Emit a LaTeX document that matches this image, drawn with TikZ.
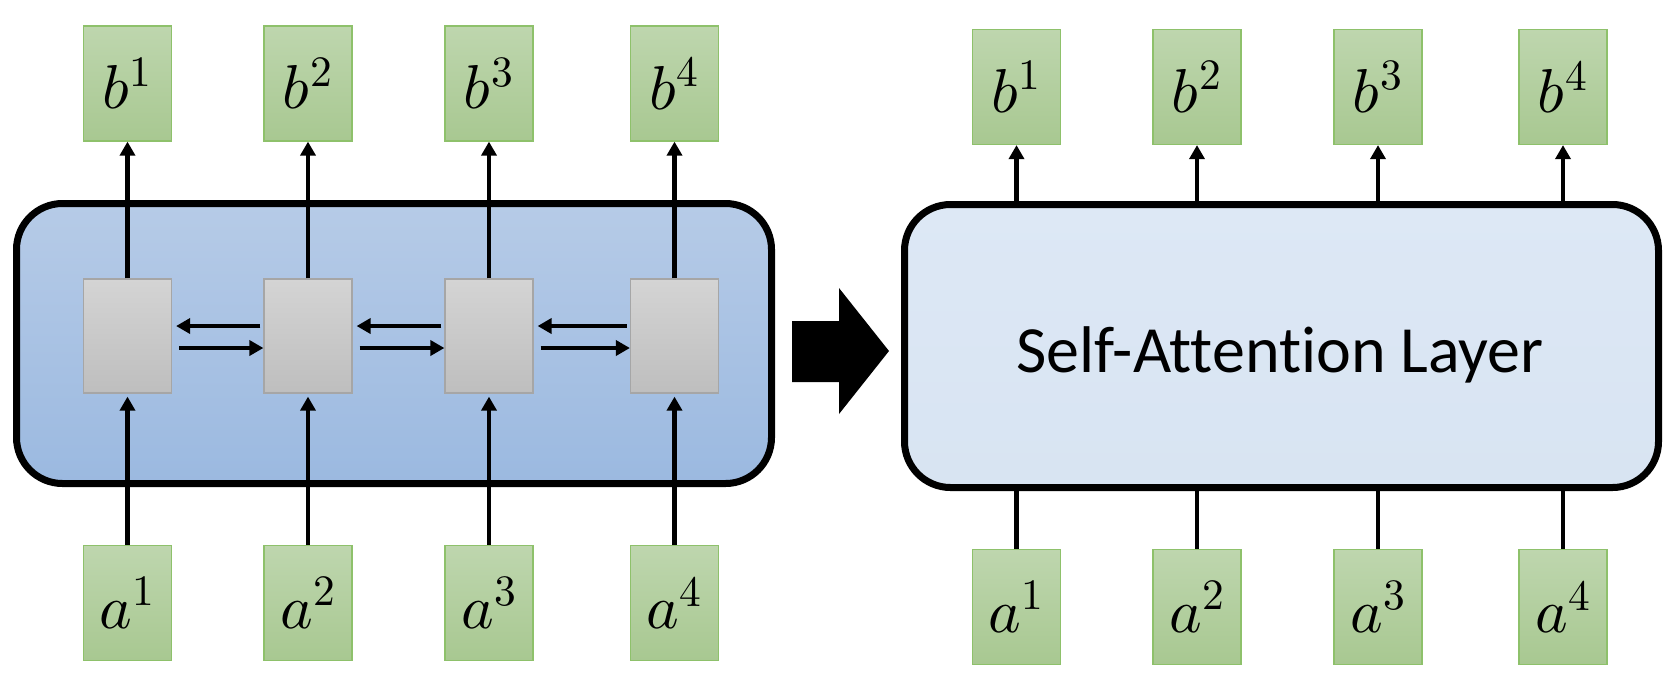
\documentclass[tikz,border=0pt]{standalone}
\usepackage{fontspec}
\usepackage{unicode-math}
\newfontfamily\carlito[Ligatures=NoCommon]{Carlito}
\usetikzlibrary{arrows.meta}
\definecolor{gtop}{HTML}{BED6AE}
\definecolor{gbot}{HTML}{A8C891}
\definecolor{gedge}{HTML}{8EC16B}
\definecolor{ytop}{HTML}{D4D4D4}
\definecolor{ybot}{HTML}{BEBEBE}
\definecolor{yedge}{HTML}{A6A6A6}
\definecolor{btop}{HTML}{B6CBE7}
\definecolor{bbot}{HTML}{9BB9E0}
\definecolor{stop}{HTML}{DDE8F5}
\definecolor{sbot}{HTML}{D8E4F2}
\begin{document}
\begin{tikzpicture}[x=0.5pt,y=-0.5pt,
  vec/.style={draw=gedge,line width=0.6pt,top color=gtop,bottom color=gbot,
    minimum width=44pt,minimum height=57.5pt,inner sep=0pt,
    font=\fontsize{31}{37}\selectfont},
  cell/.style={draw=yedge,line width=0.6pt,top color=ytop,bottom color=ybot,
    minimum width=44pt,minimum height=57pt,inner sep=0pt},
  layer/.style={draw=black,line width=3.5pt,rounded corners=23pt,inner sep=0pt},
  flow/.style={line width=2.4pt,-{Triangle[length=7pt,width=7.5pt]}},
  wire/.style={line width=2.4pt}]
\useasboundingbox (0,0) rectangle (1680,698);

% ---------- left: recurrent layer ----------
\node[layer,top color=btop,bottom color=bbot,minimum width=377.5pt,minimum height=140pt] (lb) at (394,343.5) {};

\foreach \i/\x in {1/127.5,2/308,3/489,4/674.5}{
  \node[vec]  (b\i) at (\x,83.5) {$b^{\i}$};
  \node[cell] (g\i) at (\x,336) {};
  \node[vec]  (a\i) at (\x,603) {$a^{\i}$};
  \draw[flow] (g\i.north) -- (b\i.south);
  \draw[flow,shorten >=1.5pt] (a\i.north) -- (g\i.south);
}
\foreach \i/\j in {1/2,2/3,3/4}{
  \draw[flow,shorten <=1.5pt,shorten >=2pt] ([yshift=5pt]g\j.west) -- ([yshift=5pt]g\i.east);
  \draw[flow,shorten <=3.5pt] ([yshift=-6pt]g\i.east) -- ([yshift=-6pt]g\j.west);
}

% ---------- big arrow ----------
\fill[black] (792,321) -- (839,321) -- (839,288) -- (889,351) -- (839,414) -- (839,382) -- (792,382) -- cycle;

% ---------- right: self-attention layer ----------
\node[layer,top color=stop,bottom color=sbot,minimum width=377pt,minimum height=141.5pt] (sa) at (1281.5,346) {};
\node[font=\carlito\fontsize{33}{38}\selectfont,anchor=base] (t) at (1280,372) {Self-Attention Layer};

\foreach \i/\x in {1/1016.5,2/1197,3/1378,4/1563}{
  \node[vec] (rb\i) at (\x,87) {$b^{\i}$};
  \node[vec] (ra\i) at (\x,607) {$a^{\i}$};
  \draw[flow] (sa.north -| rb\i) -- (rb\i.south);
  \draw[wire] (ra\i.north) -- (ra\i |- sa.south);
}
\end{tikzpicture}
\end{document}
